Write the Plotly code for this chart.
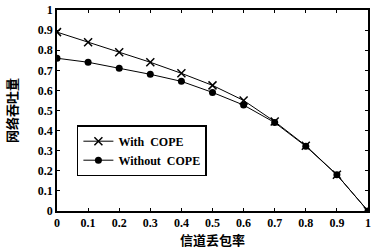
import plotly.graph_objects as go

loss_rate = [0, 0.1, 0.2, 0.3, 0.4, 0.5, 0.6, 0.7, 0.8, 0.9, 1.0]
with_cope = [0.89, 0.84, 0.79, 0.74, 0.685, 0.625, 0.55, 0.445, 0.325, 0.18, 0.0]
without_cope = [0.76, 0.74, 0.71, 0.68, 0.645, 0.59, 0.527, 0.44, 0.322, 0.18, 0.0]
tick_vals = [0, 0.1, 0.2, 0.3, 0.4, 0.5, 0.6, 0.7, 0.8, 0.9, 1]
tick_text = ["0", "0.1", "0.2", "0.3", "0.4", "0.5", "0.6", "0.7", "0.8", "0.9", "1"]

SERIF = "Times New Roman, Liberation Serif, serif"

fig = go.Figure()
fig.add_trace(go.Scatter(
    x=loss_rate, y=with_cope, mode="lines+markers", name="With  COPE",
    line=dict(color="black", width=1),
    marker=dict(symbol="x-thin-open", size=8, color="black", line=dict(width=1.5, color="black")),
))
fig.add_trace(go.Scatter(
    x=loss_rate, y=without_cope, mode="lines+markers", name="Without  COPE",
    line=dict(color="black", width=1),
    marker=dict(symbol="circle", size=7, color="black"),
))

axis_common = dict(
    showgrid=False, zeroline=False, showline=True, linecolor="black", linewidth=1.5,
    mirror="ticks", ticks="inside", ticklen=3, tickcolor="black", automargin=False,
    tickfont=dict(family=SERIF, size=12, color="black", weight="bold"),
    tickvals=tick_vals, ticktext=tick_text,
)
fig.update_xaxes(range=[0, 1], title=dict(text="信道丢包率", standoff=4,
                 font=dict(family="Noto Sans CJK SC", size=13, color="black", weight="bold")), **axis_common)
fig.update_yaxes(range=[0, 1], title=dict(text="网络吞吐量", standoff=17,
                 font=dict(family="Noto Sans CJK SC", size=13, color="black", weight="bold")), **axis_common)

fig.update_layout(
    width=371, height=251,
    margin=dict(l=57, r=3, t=10, b=40, autoexpand=False),
    paper_bgcolor="white", plot_bgcolor="white",
    showlegend=True,
    legend=dict(
        x=0.064, y=0.30, xanchor="left", yanchor="middle",
        bgcolor="white", bordercolor="black", borderwidth=1.5,
        font=dict(family=SERIF, size=12, color="black", weight="bold"),
        itemwidth=30, tracegroupgap=0,
    ),
)

fig.write_html("out.html", config={"displayModeBar": False},
               post_script="document.body.style.margin='0';document.body.style.overflow='hidden';")
